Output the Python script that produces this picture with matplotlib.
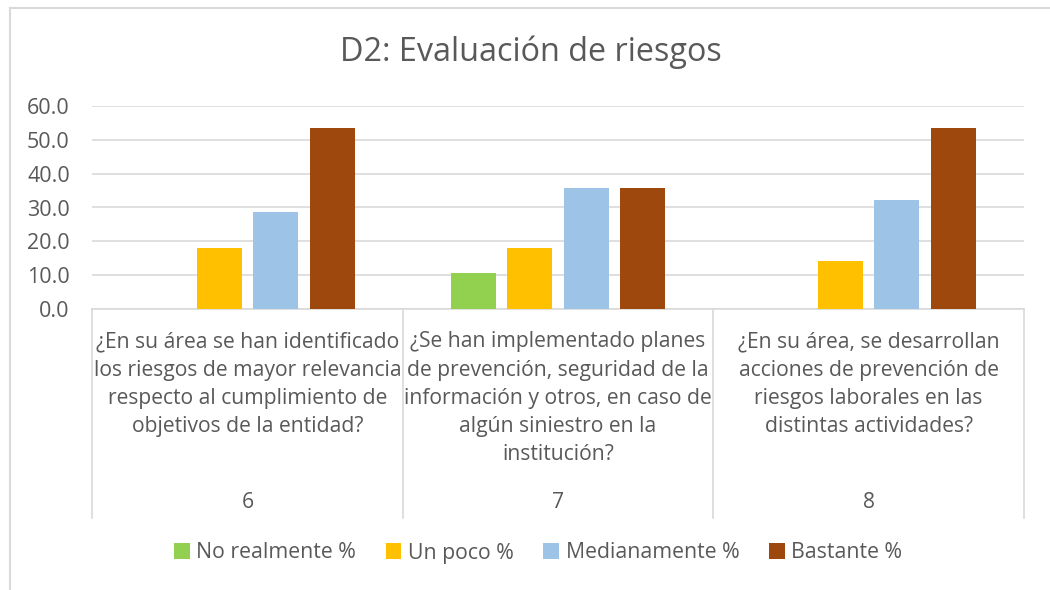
import matplotlib.pyplot as plt
import numpy as np
from matplotlib.lines import Line2D

plt.rcParams['font.family'] = ['Open Sans', 'DejaVu Sans']

numbers = ["6", "7", "8"]
questions = [
    "¿En su área se han identificado\nlos riesgos de mayor relevancia\nrespecto al cumplimiento de\nobjetivos de la entidad?",
    "¿Se han implementado planes\nde prevención, seguridad de la\ninformación y otros, en caso de\nalgún siniestro en la\ninstitución?",
    "¿En su área, se desarrollan\nacciones de prevención de\nriesgos laborales en las\ndistintas actividades?",
]
series = ["No realmente %", "Un poco %", "Medianamente %", "Bastante %"]
no_realmente = [0.0, 10.7, 0.0]
un_poco = [17.9, 17.9, 14.3]
medianamente = [28.6, 35.7, 32.1]
bastante = [53.6, 35.7, 53.6]
colors = ["#92D050", "#FFC000", "#9DC3E6", "#9E480E"]

values = [no_realmente, un_poco, medianamente, bastante]
txt = "#595959"
grid = "#D9D9D9"

fig = plt.figure(figsize=(10.5, 5.9), dpi=100)
ax = fig.add_axes([92 / 1050, 1 - 309 / 590, (1024 - 92) / 1050, 203 / 590])

x = np.arange(len(numbers))
width = 0.145
step = 0.182
for i, (vals, name, c) in enumerate(zip(values, series, colors)):
    ax.bar(x + (i - 1.5) * step, vals, width, color=c, label=name, zorder=3)

ax.set_xlim(-0.5, 2.5)
ax.set_ylim(0, 60)
ax.set_yticks(np.arange(0, 61, 10))
ax.set_yticklabels([f"{v:.1f}" for v in np.arange(0, 61, 10)])
ax.yaxis.grid(True, color=grid, linewidth=1.2, zorder=0)
ax.tick_params(axis="y", length=0, labelsize=15.5, labelcolor=txt, pad=16)
ax.set_xticks([])
for s in ["top", "right", "left"]:
    ax.spines[s].set_visible(False)
ax.spines["bottom"].set_color(grid)
ax.spines["bottom"].set_linewidth(1.2)

# category boxes under the axis
trans = ax.get_xaxis_transform()
for xb in [-0.5, 0.5, 1.5, 2.5]:
    ax.add_line(Line2D([xb, xb], [0, -1.03], transform=trans, color=grid,
                       linewidth=1.2, clip_on=False))
for xi, q, n in zip(x, questions, numbers):
    ax.text(xi, -0.11, q, transform=trans, ha="center", va="top", fontsize=15.2,
            color=txt, linespacing=1.45)
    ax.text(xi, -0.951, n, transform=trans, ha="center", va="center", fontsize=15.2,
            color=txt)

fig.suptitle("D2: Evaluación de riesgos", x=531 / 1050, y=1 - 52 / 590, va="center",
             fontsize=23.3, color=txt)

fig.legend(loc="center", bbox_to_anchor=(538 / 1050, 1 - 553 / 590), ncol=4,
           frameon=False, fontsize=15.3, labelcolor=txt, handlelength=0.75,
           handleheight=0.75, handletextpad=0.3, columnspacing=1.4)

# chart area border (left and top only visible)
fig.add_artist(Line2D([10 / 1050, 10 / 1050], [0, 1 - 8 / 590], transform=fig.transFigure,
                      color=grid, linewidth=1.5))
fig.add_artist(Line2D([10 / 1050, 1], [1 - 8 / 590, 1 - 8 / 590], transform=fig.transFigure,
                      color=grid, linewidth=1.5))

fig.savefig("out.png", dpi=100)
